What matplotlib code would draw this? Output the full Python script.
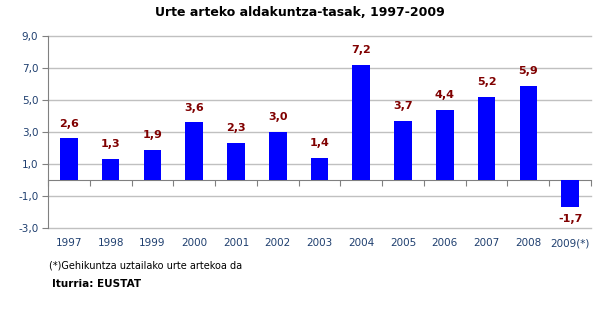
import matplotlib
matplotlib.use('Agg')
import matplotlib.pyplot as plt
import matplotlib.transforms as mtransforms
import numpy as np

# Data
years = ['1997', '1998', '1999', '2000', '2001', '2002', '2003',
         '2004', '2005', '2006', '2007', '2008', '2009(*)']
rates = [2.6, 1.3, 1.9, 3.6, 2.3, 3.0, 1.4, 7.2, 3.7, 4.4, 5.2, 5.9, -1.7]
yticks = [-3, -1, 1, 3, 5, 7, 9]

title = 'Urte arteko aldakuntza-tasak, 1997-2009'
note = '(*)Gehikuntza uztailako urte artekoa da'
source = 'Iturria: EUSTAT'


def comma(v):
    return f'{v:.1f}'.replace('.', ',')


plt.rcParams['font.family'] = ['DejaVu Sans']

fig = plt.figure(figsize=(6.05, 3.09), dpi=100)
ax = fig.add_axes([48 / 605, 1 - 228 / 309, (591 - 48) / 605, (228 - 36) / 309])

x = np.arange(len(years))
ax.bar(x, rates, width=0.42, color='#0000ff', zorder=3)

ax.set_xlim(-0.5, len(years) - 0.5)
ax.set_ylim(-3, 9)
ax.set_yticks(yticks)
ax.set_yticklabels([comma(v) for v in yticks], color='#1f3f6f', fontsize=7.5)
ax.yaxis.grid(True, color='#c0c0c0', lw=1, zorder=0)
for gl in ax.get_ygridlines():
    gl.set_clip_on(False)
ax.tick_params(axis='y', length=4, color='#808080', pad=3)

# x axis line at zero with ticks between categories
ax.spines['bottom'].set_position(('data', 0))
ax.spines['bottom'].set_color('#808080')
ax.spines['left'].set_color('#808080')
ax.spines['top'].set_visible(False)
ax.spines['right'].set_visible(False)
ax.set_xticks(np.arange(len(years) + 1) - 0.5)
ax.set_xticklabels([])
ax.tick_params(axis='x', length=4, color='#808080', direction='out')

trans = mtransforms.blended_transform_factory(ax.transData, ax.transAxes)
for xi, lab in zip(x, years):
    ax.text(xi, -0.08, lab, transform=trans, ha='center', va='center',
            fontsize=7.5, color='#1f3f6f')

# value labels
for xi, v in zip(x, rates):
    if v >= 0:
        ax.annotate(comma(v), (xi, v), xytext=(0, 7), textcoords='offset points',
                    ha='center', va='bottom', fontsize=8, fontweight='bold',
                    color='#800000')
    else:
        ax.annotate(comma(v), (xi, v), xytext=(0, -5), textcoords='offset points',
                    ha='center', va='top', fontsize=8, fontweight='bold',
                    color='#800000')

fig.text(300 / 605, 1 - 13 / 309, title, ha='center', va='center',
         fontsize=9, fontweight='bold')
fig.text(49 / 605, 1 - 266 / 309, note, ha='left', va='center', fontsize=7)
fig.text(52 / 605, 1 - 284 / 309, source, ha='left', va='center',
         fontsize=7.5, fontweight='bold')

fig.savefig('out.png', dpi=100, facecolor='white')
